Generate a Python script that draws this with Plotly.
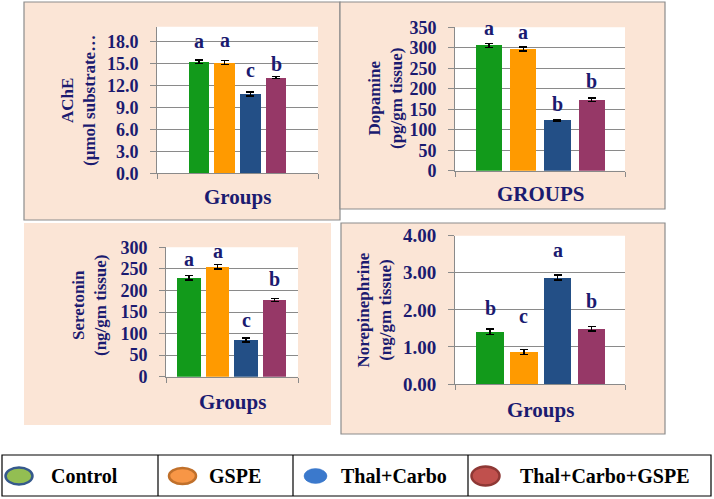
import plotly.graph_objects as go

W, H = 714, 499

# ---------------- data ----------------
groups = ["Control", "GSPE", "Thal+Carbo", "Thal+Carbo+GSPE"]

ache = [15.27, 15.15, 10.85, 13.08]
ache_err = [0.25, 0.25, 0.25, 0.15]
ache_letters = ["a", "a", "c", "b"]
ache_ticks = [0, 3, 6, 9, 12, 15, 18]

dopamine = [306, 297, 123, 173]
dopamine_err = [5, 5, 2, 4]
dopamine_letters = ["a", "a", "b", "b"]
dopamine_ticks = [0, 50, 100, 150, 200, 250, 300, 350]

serotonin = [229, 255, 85, 178]
serotonin_err = [5, 5, 5, 4]
serotonin_letters = ["a", "a", "c", "b"]
serotonin_ticks = [0, 50, 100, 150, 200, 250, 300]

norepi = [1.41, 0.86, 2.87, 1.49]
norepi_err = [0.07, 0.07, 0.07, 0.06]
norepi_letters = ["b", "c", "a", "b"]
norepi_ticks = [0, 1, 2, 3, 4]

# ---------------- styles ----------------
bar_colors = ["#129A1B", "#FF9A00", "#234F86", "#963867"]
legend_fill = ["#93BE52", "#F79646", "#3B79CC", "#C0504D"]
legend_line = ["#35598C", "#C0702B", "#3B79CC", "#8E3835"]
NAVY = "#1B1B70"
FONT = "Liberation Serif, Times New Roman, serif"
PEACH = "#FBE5D6"
GRID = "#8A8A8A"


def px_x(p):
    return p / W


def px_y(p):
    return 1 - p / H


panels = [
    dict(vals=ache, err=ache_err, letters=ache_letters, ticks=ache_ticks,
         fmt=".1f", yrange=[0, 20.05], rect=(157, 318, 26.7, 173.3),
         xr=[-1.63, 4.63], bw=0.8, tsize=18,
         title="AChE<br>(µmol substrate…", tpos=(79, 101),
         xlab="Groups", xpos=(237, 197), gaps=[11, 12.7, 14.3, 5]),
    dict(vals=dopamine, err=dopamine_err, letters=dopamine_letters, ticks=dopamine_ticks,
         fmt="d", yrange=[0, 350], rect=(455, 625, 27.3, 170.7),
         xr=[-0.99, 3.97], bw=0.77, tsize=18,
         title="Dopamine<br>(pg/gm tissue)", tpos=(386, 98),
         xlab="GROUPS", xpos=(540.5, 194), gaps=[7.7, 7.7, 7.7, 9]),
    dict(vals=serotonin, err=serotonin_err, letters=serotonin_letters, ticks=serotonin_ticks,
         fmt="d", yrange=[0, 300], rect=(166, 298, 247.3, 376.7),
         xr=[-0.81, 3.82], bw=0.82, tsize=18,
         title="Seretonin<br>(ng/gm tissue)", tpos=(89, 305),
         xlab="Groups", xpos=(232.5, 402), gaps=[9, 5.7, 10.6, 12]),
    dict(vals=norepi, err=norepi_err, letters=norepi_letters, ticks=norepi_ticks,
         fmt=".2f", yrange=[0, 4], rect=(455, 625, 235.7, 384),
         xr=[-1.04, 3.99], bw=0.81, tsize=19,
         title="Norepinephrine<br>(ng/gm tissue)", tpos=(373.5, 310),
         xlab="Groups", xpos=(540, 410), gaps=[13.3, 25.7, 17, 17.7]),
]

fig = go.Figure()
shapes = []
annotations = []

# panel backgrounds (paper coordinates): (x0, x1, y0, y1, border width)
panel_boxes = [
    (24, 340, 2, 220, 1.2),
    (24, 331, 223, 425, 0),
    (340, 665, 2, 209, 1.2),
    (341, 665, 223, 434, 1.2),
]
for (x0, x1, y0, y1, lw) in panel_boxes:
    shapes.append(dict(type="rect", xref="paper", yref="paper",
                       x0=px_x(x0), x1=px_x(x1), y0=px_y(y1), y1=px_y(y0),
                       fillcolor=PEACH, line=dict(color="#8C8C8C", width=lw),
                       layer="below"))

for k, p in enumerate(panels):
    n = "" if k == 0 else str(k + 1)
    xa, ya = "x" + n, "y" + n
    xs = list(range(len(groups)))
    fig.add_trace(go.Bar(
        x=xs, y=p["vals"], width=p["bw"], xaxis=xa, yaxis=ya,
        marker=dict(color=bar_colors, line=dict(width=0)),
        error_y=dict(type="data", array=p["err"], visible=True,
                     color="black", thickness=1.4, width=4),
        showlegend=False, hoverinfo="skip"))
    l, r, t, b = p["rect"]
    fig.update_layout(**{
        "xaxis" + n: dict(domain=[px_x(l), px_x(r)], range=p["xr"], anchor=ya,
                          showgrid=False, zeroline=False, showline=True,
                          linecolor=GRID, linewidth=1, ticks="outside",
                          tickvals=p["xr"], ticklen=5, tickcolor=GRID,
                          showticklabels=False, fixedrange=True, automargin=False),
        "yaxis" + n: dict(domain=[px_y(b), px_y(t)], range=p["yrange"], anchor=xa,
                          tickvals=p["ticks"], tickformat=p["fmt"],
                          showgrid=True, gridcolor=GRID, gridwidth=1,
                          zeroline=False, showline=True, linecolor=GRID, linewidth=1,
                          ticks="outside", ticklen=6, tickcolor=GRID,
                          ticklabelstandoff=8, automargin=False,
                          tickfont=dict(family=FONT, size=p["tsize"], color=NAVY,
                                        weight="bold"),
                          fixedrange=True),
    })
    # white plot area
    shapes.append(dict(type="rect", xref=xa + " domain", yref=ya + " domain",
                       x0=0, x1=1, y0=0, y1=1, fillcolor="white",
                       line=dict(width=0), layer="below"))
    # significance letters
    for i, (v, e, s) in enumerate(zip(p["vals"], p["err"], p["letters"])):
        annotations.append(dict(x=i, y=v + e, xref=xa, yref=ya, text="<b>%s</b>" % s,
                                showarrow=False, yanchor="bottom", xanchor="center",
                                yshift=p["gaps"][i] - 5.3,
                                font=dict(family=FONT, size=20, color=NAVY)))
    # y title
    annotations.append(dict(x=px_x(p["tpos"][0]), y=px_y(p["tpos"][1]),
                            xref="paper", yref="paper", text="<b>%s</b>" % p["title"],
                            textangle=-90, showarrow=False, xanchor="center",
                            yanchor="middle",
                            font=dict(family=FONT, size=17, color=NAVY)))
    # x title
    annotations.append(dict(x=px_x(p["xpos"][0]), y=px_y(p["xpos"][1]),
                            xref="paper", yref="paper", text="<b>%s</b>" % p["xlab"],
                            showarrow=False, xanchor="center", yanchor="middle",
                            font=dict(family=FONT, size=21, color=NAVY)))

# ---------------- legend ----------------
leg_top, leg_bot = 455, 496
cells = [2, 158, 293, 468, 711]
shapes.append(dict(type="rect", xref="paper", yref="paper",
                   x0=px_x(cells[0]), x1=px_x(cells[-1]),
                   y0=px_y(leg_bot), y1=px_y(leg_top),
                   fillcolor="white", line=dict(color="black", width=1.2)))
for c in cells[1:-1]:
    shapes.append(dict(type="line", xref="paper", yref="paper",
                       x0=px_x(c), x1=px_x(c), y0=px_y(leg_bot), y1=px_y(leg_top),
                       line=dict(color="black", width=1.2)))
marker_centers = [19, 182.5, 315.5, 485.5]
marker_sizes = [(27, 17), (27, 16), (23, 15), (28, 19)]
text_left = [49, 207, 339, 518]
for i, g in enumerate(groups):
    cx, cy = marker_centers[i], 476
    w, h = marker_sizes[i]
    shapes.append(dict(type="circle", xref="paper", yref="paper",
                       x0=px_x(cx - w / 2), x1=px_x(cx + w / 2),
                       y0=px_y(cy + h / 2), y1=px_y(cy - h / 2),
                       fillcolor=legend_fill[i],
                       line=dict(color=legend_line[i], width=2.5 if i != 2 else 0.5)))
    annotations.append(dict(x=px_x(text_left[i]), y=px_y(476), xref="paper", yref="paper",
                            text="<b>%s</b>" % g, showarrow=False, xanchor="left",
                            yanchor="middle",
                            font=dict(family=FONT, size=20, color="black")))

fig.update_layout(width=W, height=H,
                  margin=dict(l=0, r=0, t=0, b=0, pad=0, autoexpand=False),
                  paper_bgcolor="white", plot_bgcolor="white",
                  shapes=shapes, annotations=annotations, bargap=0,
                  showlegend=False)
fig.write_html("out.html", config={"displayModeBar": False, "staticPlot": True},
               post_script="document.body.style.margin='0';document.body.style.overflow='hidden';")
